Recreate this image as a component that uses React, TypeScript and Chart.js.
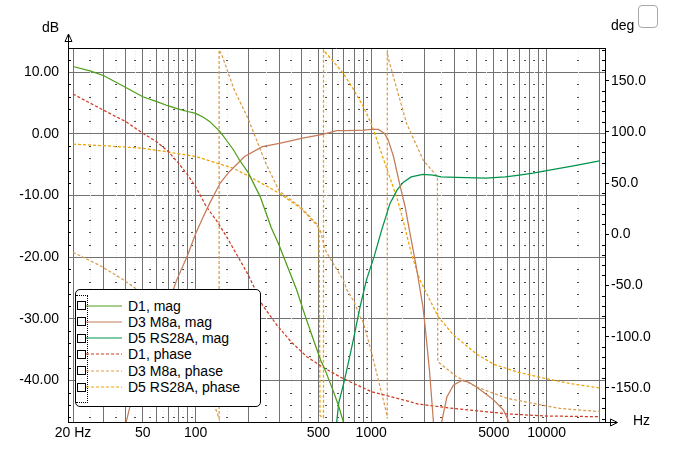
import React, { useEffect, useRef } from "react";
import Chart from "chart.js/auto";

const FONT = '"Liberation Sans", Arial, sans-serif';

// axis grid / tick positions
const xGridHz = [20, 30, 40, 50, 60, 70, 80, 90, 100, 200, 300, 400, 500, 600, 700, 800, 900,
  1000, 2000, 3000, 4000, 5000, 6000, 7000, 8000, 9000, 10000, 20000];
const xLabels: Record<number, string> = {
  20: "20 Hz", 50: "50", 100: "100", 500: "500", 1000: "1000", 5000: "5000", 10000: "10000",
};
const xMinorHz = [25, 35, 45, 55, 65, 75, 85, 95, 150, 250, 350, 450, 550, 650, 750, 850, 950,
  1500, 2500, 3500, 4500, 5500, 6500, 7500, 8500, 9500, 15000];
const dbTicks = [-40, -30, -20, -10, 0, 10];
const dbMinor = [-46, -44, -42, -38, -36, -34, -32, -28, -26, -24, -22, -18, -16, -14, -12,
  -8, -6, -4, -2, 2, 4, 6, 8, 12];
const degTicks = [-150, -100, -50, 0, 50, 100, 150];
const degMinor = [-180, -170, -160, -140, -130, -120, -110, -90, -80, -70, -60, -40, -30, -20, -10,
  10, 20, 30, 40, 60, 70, 80, 90, 110, 120, 130, 140, 160, 170, 180];

// D1 magnitude (dB)
const d1MagHz = [20, 25, 30, 40, 50, 60, 70, 80, 90, 100, 110, 120, 138, 150, 164, 178, 200, 233,
  270, 296, 330, 376, 420, 470, 515, 546, 600, 650, 694, 740];
const d1MagDb = [10.9, 10.2, 9.4, 7.5, 6.0, 5.2, 4.5, 4.0, 3.6, 3.3, 2.7, 2.0, 0.3, -1.1, -2.6, -4.3,
  -6.4, -10.2, -15.3, -17.8, -21.2, -25.3, -29.5, -33.5, -36.7, -38.3, -41.3, -44.0, -46.7, -49.0];

// D3 M8a magnitude (dB)
const d3MagHz = [38, 40, 42, 46, 50, 60, 70, 78, 90, 100, 110, 120, 138, 155, 190, 240, 300, 400,
  530, 636, 730, 900, 1007, 1100, 1190, 1250, 1340, 1460, 1560, 1650, 1800, 1970, 2030, 2150, 2260,
  2330, 2450, 2520, 2600, 2700, 2940, 3280, 3600, 4000, 4500, 5000, 5660, 6120, 6300];
const d3MagDb = [-50, -47, -44.5, -41.5, -38.5, -32.5, -27.5, -23.7, -19.7, -16.2, -13.6, -11.3,
  -8.0, -6.2, -3.7, -2.1, -1.55, -0.75, -0.1, 0.5, 0.5, 0.6, 0.7, 0.7, 0.05, -1.0, -3.7, -8.4,
  -11.8, -15.6, -21.3, -28, -31.3, -38.5, -46.5, -60, -60, -46.8, -44.9, -42.7, -40.8, -40.0,
  -40.3, -41.1, -42.2, -43.2, -44.8, -46.8, -48];

// D5 RS28A magnitude (dB)
const d5MagHz = [600, 636, 653, 700, 726, 790, 864, 940, 1040, 1148, 1280, 1400, 1520, 1690, 1970,
  2250, 2500, 3050, 4500, 5800, 7000, 8350, 10000, 14200, 20000];
const d5MagDb = [-52, -46.8, -43.7, -40.3, -38.3, -33.5, -28.1, -23.7, -19.9, -15.6, -11.3, -9.2,
  -7.9, -7.0, -6.6, -6.7, -7.0, -7.1, -7.2, -7.0, -6.7, -6.4, -6.0, -5.2, -4.4];

// D1 phase (deg)
const d1PhHz = [20, 30, 40, 50, 60, 70, 80, 90, 100, 115, 132, 150, 200, 240, 290, 350, 430, 522,
  694, 1007, 1670, 1850, 2940, 4550, 6200, 10000, 20000];
const d1PhDeg = [137, 121, 110, 98.6, 90.4, 80.6, 69.3, 58, 46.5, 27, 13, -2.3, -40, -69, -88.5,
  -105, -119.5, -129, -141, -153.7, -163.4, -165.7, -170, -173.2, -175.4, -177.4, -178];

// D3 M8a phase (deg, wrapped)
const d3PhHz = [20, 28.5, 39, 50, 70, 90, 110, 125, 136, 136, 141, 165, 200, 250, 300, 400, 490,
  515, 546, 600, 694, 726, 800, 864, 902, 1007, 1135, 1225, 1235, 1235, 1250, 1593, 1980, 2320,
  2385, 2395, 2467, 3070, 4000, 5920, 8360, 11900, 20000];
const d3PhDeg = [-17.5, -30.5, -44.6, -58, -80, -108, -140, -162, -180, 180, 175, 142, 112, 70, 42,
  26, 10, 3, -15, -27, -44.6, -54, -66, -80.4, -86, -116, -152, -175, -180, 180, 172, 108, 72.5,
  58.5, 57, -124, -126, -139, -149, -160, -165, -170, -173];

// D5 RS28A phase (deg, wrapped)
const d5PhHz = [20, 30, 50, 68, 100, 132, 164, 200, 300, 400, 490, 505, 511, 535, 535, 546, 600,
  694, 790, 900, 1007, 1250, 1400, 1520, 1700, 1890, 2400, 2930, 4000, 5000, 7000, 10000, 14000,
  20000];
const d5PhDeg = [88, 86.5, 84, 80.6, 76, 69.5, 64.5, 57, 40, 25, 9, 6, -177, -179, 180, 178, 170,
  157, 142, 125, 107, 60, 36, 14, -20, -44, -80, -98, -117, -127, -135, -141, -146, -150];

const seriesLabels = ["D1, mag", "D3 M8a, mag", "D5 RS28A, mag", "D1, phase", "D3 M8a, phase", "D5 RS28A, phase"];
const seriesColors = ["#4f9e18", "#c57b58", "#00944a", "#d03a22", "#d99c50", "#eea200"];
const seriesDashed = [false, false, false, true, true, true];

const pts = (hz: number[], v: number[]) => hz.map((x, i) => ({ x, y: v[i] }));

const gridMarks = {
  id: "gridMarks",
  beforeDatasetsDraw(chart: any) {
    const { ctx, chartArea: a, scales } = chart;
    const xs = scales.x, ys = scales.y, ys1 = scales.y1;
    ctx.save();
    ctx.lineWidth = 1;
    ctx.strokeStyle = "#e8e8e8";
    ctx.setLineDash([1, 2]);
    for (const hz of xMinorHz) {
      const px = Math.round(xs.getPixelForValue(hz)) + 0.5;
      ctx.beginPath();
      ctx.moveTo(px, a.top);
      ctx.lineTo(px, a.bottom);
      ctx.stroke();
    }
    ctx.setLineDash([]);
    ctx.fillStyle = "#4a4a4a";
    for (const hz of xMinorHz) {
      const px = Math.round(xs.getPixelForValue(hz));
      for (const db of dbMinor) {
        const py = Math.round(ys.getPixelForValue(db));
        ctx.fillRect(px - 1, py, 2, 1);
      }
    }
    ctx.fillStyle = "#000";
    for (const db of dbMinor) {
      const py = Math.round(ys.getPixelForValue(db));
      ctx.fillRect(a.left, py, 3, 1);
    }
    for (const d of degMinor) {
      const py = Math.round(ys1.getPixelForValue(d));
      ctx.fillRect(a.right - 3, py, 3, 1);
    }
    ctx.restore();
  },
  afterDraw(chart: any) {
    const { ctx, chartArea: a } = chart;
    const l = Math.round(a.left) + 0.5;
    const b = Math.round(a.bottom) + 0.5;
    ctx.save();
    ctx.strokeStyle = "#000";
    ctx.lineWidth = 1;
    ctx.beginPath();
    ctx.moveTo(a.left, Math.round(a.top) + 0.5);
    ctx.lineTo(a.right, Math.round(a.top) + 0.5);
    ctx.moveTo(l, a.top);
    ctx.lineTo(l, 35);
    ctx.moveTo(a.right, b);
    ctx.lineTo(617, b);
    ctx.stroke();
    // arrow heads
    ctx.beginPath();
    ctx.moveTo(l, 34);
    ctx.lineTo(l - 3.5, 41.5);
    ctx.lineTo(l + 3.5, 41.5);
    ctx.closePath();
    ctx.stroke();
    ctx.beginPath();
    ctx.moveTo(617.5, b);
    ctx.lineTo(610.5, b - 3.5);
    ctx.lineTo(610.5, b + 3.5);
    ctx.closePath();
    ctx.stroke();
    ctx.restore();
  },
};

const App: React.FC = () => {
  const chartRef = useRef<HTMLCanvasElement>(null);
  const chartInstance = useRef<Chart>();

  useEffect(() => {
    if (!chartRef.current) return;
    const ctx = chartRef.current.getContext("2d");
    if (!ctx) return;
    if (chartInstance.current) chartInstance.current.destroy();

    const series = [
      pts(d1MagHz, d1MagDb),
      pts(d3MagHz, d3MagDb),
      pts(d5MagHz, d5MagDb),
      pts(d1PhHz, d1PhDeg),
      pts(d3PhHz, d3PhDeg),
      pts(d5PhHz, d5PhDeg),
    ];
    const font = { family: FONT, size: 14 };

    chartInstance.current = new Chart(ctx, {
      type: "line",
      data: {
        datasets: series.map((data, i) => ({
          label: seriesLabels[i],
          data,
          yAxisID: seriesDashed[i] ? "y1" : "y",
          borderColor: seriesColors[i],
          borderWidth: 1.25,
          borderDash: seriesDashed[i] ? [3, 2] : [],
          pointRadius: 0,
          fill: false,
          tension: 0,
        })),
      },
      options: {
        animation: false,
        responsive: false,
        events: [],
        parsing: false as any,
        layout: { padding: { top: 48, left: 0, right: 0, bottom: 0 } },
        plugins: { legend: { display: false }, tooltip: { enabled: false } },
        scales: {
          x: {
            type: "logarithmic",
            position: "bottom",
            min: 18.73,
            max: 21490,
            afterBuildTicks: (s: any) => { s.ticks = xGridHz.map((value) => ({ value })); },
            afterFit: (s: any) => { s.height = 48; },
            grid: { color: "#727272", lineWidth: 1, drawTicks: false },
            border: { color: "#000", width: 1 },
            ticks: {
              autoSkip: false,
              maxRotation: 0,
              minRotation: 0,
              padding: 3,
              color: "#000",
              font,
              callback: (v: any) => xLabels[Number(v)] ?? "",
            },
          },
          y: {
            type: "linear",
            position: "left",
            min: -46.75,
            max: 13.9,
            afterBuildTicks: (s: any) => { s.ticks = dbTicks.map((value) => ({ value })); },
            afterFit: (s: any) => { s.width = 68; },
            grid: { color: "#727272", lineWidth: 1, drawTicks: false },
            border: { color: "#000", width: 1 },
            ticks: { padding: 9, color: "#000", font, callback: (v: any) => Number(v).toFixed(2) },
          },
          y1: {
            type: "linear",
            position: "right",
            min: -183.2,
            max: 181.9,
            afterBuildTicks: (s: any) => { s.ticks = degTicks.map((value) => ({ value })); },
            afterFit: (s: any) => { s.width = 68; },
            grid: { drawOnChartArea: false, drawTicks: true, tickLength: 4, color: "#000" },
            border: { color: "#000", width: 1 },
            ticks: { padding: 2, color: "#000", font, callback: (v: any) => Number(v).toFixed(1) },
          },
        },
      },
      plugins: [gridMarks],
    } as any);

    return () => {
      if (chartInstance.current) {
        chartInstance.current.destroy();
        chartInstance.current = undefined;
      }
    };
  }, []);

  const text: React.CSSProperties = {
    position: "absolute",
    font: `14px ${FONT}`,
    lineHeight: "16px",
    color: "#000",
    whiteSpace: "nowrap",
  };

  return (
    <div style={{ position: "absolute", left: 0, top: 0, width: 673, height: 470, background: "#fff" }}>
      <canvas ref={chartRef} width={673} height={470} style={{ position: "absolute", left: 0, top: 0 }} />
      <div style={{ ...text, left: 42, top: 19 }}>dB</div>
      <div style={{ ...text, left: 611, top: 17 }}>deg</div>
      <div style={{ ...text, left: 633, top: 412 }}>Hz</div>
      <div
        style={{
          position: "absolute", left: 638, top: 5, width: 20, height: 23, boxSizing: "border-box",
          border: "1px solid #a8a8a8", borderRadius: 4, background: "#fff",
        }}
      />
      <div
        style={{
          position: "absolute", left: 75, top: 289, width: 186, height: 118, boxSizing: "border-box",
          border: "1px solid #000", borderRadius: 5, background: "#fff",
        }}
      >
        <div
          style={{
            position: "absolute", left: 0, top: 5, width: 12, height: 108, boxSizing: "border-box",
            borderTop: "1px dotted #000", borderRight: "1px dotted #000", borderBottom: "1px dotted #000",
          }}
        />
        {seriesLabels.map((label, i) => {
          const cy = 15.5 + i * 16.3;
          return (
            <React.Fragment key={label}>
              <div
                style={{
                  position: "absolute", left: 1, top: Math.round(cy - 4.5), width: 9, height: 9,
                  boxSizing: "border-box", border: "1px solid #000", background: "#fff",
                }}
              />
              <svg style={{ position: "absolute", left: 10, top: Math.round(cy) - 1 }} width={36} height={2}>
                <line
                  x1={0} y1={1} x2={36} y2={1}
                  stroke={seriesColors[i]} strokeWidth={1}
                  strokeDasharray={seriesDashed[i] ? "3 2" : undefined}
                />
              </svg>
              <div style={{ ...text, left: 52, top: Math.round(cy - 8) }}>{label}</div>
            </React.Fragment>
          );
        })}
      </div>
    </div>
  );
};

export default App;
